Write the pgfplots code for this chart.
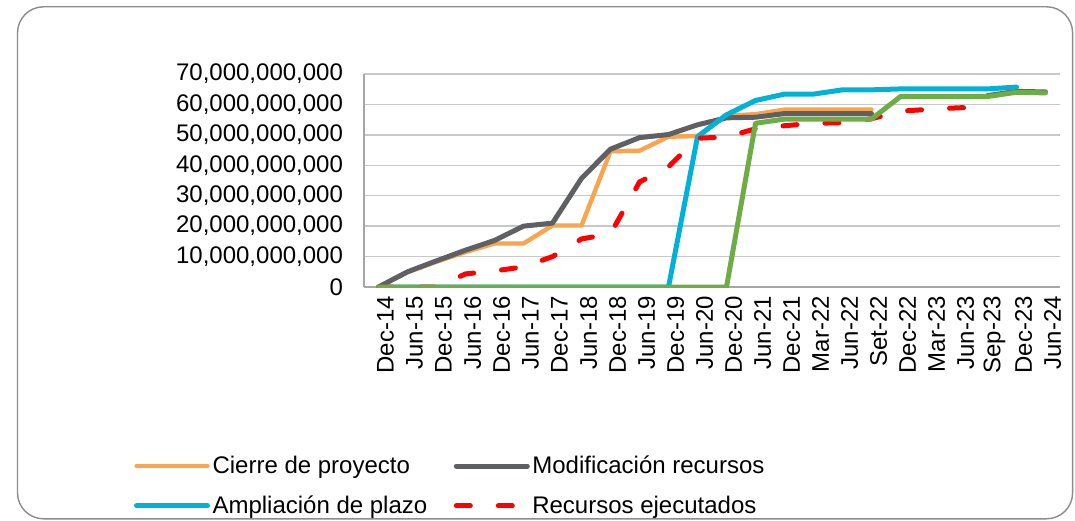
\documentclass[border=0pt]{standalone}
\usepackage{fontspec}
\setmainfont{Liberation Sans}
\usepackage{pgfplots}
\pgfplotsset{compat=1.18}
\definecolor{corange}{HTML}{F9A550}
\definecolor{cgray}{HTML}{5E6064}
\definecolor{ccyan}{HTML}{00B2D8}
\definecolor{cred}{HTML}{FF0000}
\definecolor{cgreen}{HTML}{6EAC46}
\definecolor{cgrid}{HTML}{C8C8C8}
\definecolor{cframe}{HTML}{8C8C8C}
\begin{document}
\begin{tikzpicture}
\path[use as bounding box] (0,0) rectangle (537.5pt,260pt);
\draw[cframe, line width=0.7pt, rounded corners=13pt] (8.75pt,0.6pt) rectangle (536.3pt,256.6pt);
\begin{axis}[
  at={(182pt,116.5pt)}, anchor=south west,
  scale only axis, width=348pt, height=106.5pt,
  xmin=-0.5, xmax=23.5, ymin=0, ymax=70e9,
  xtick={0,...,23},
  xticklabels={Dec-14,Jun-15,Dec-15,Jun-16,Dec-16,Jun-17,Dec-17,Jun-18,Dec-18,Jun-19,Dec-19,Jun-20,Dec-20,Jun-21,Dec-21,Mar-22,Jun-22,Set-22,Dec-22,Mar-23,Jun-23,Sep-23,Dec-23,Jun-24},
  ytick={0,10e9,20e9,30e9,40e9,50e9,60e9,70e9},
  scaled y ticks=false,
  yticklabel style={/pgf/number format/fixed,/pgf/number format/1000 sep={,},/pgf/number format/assume math mode=true, font=\fontsize{12}{14}\selectfont, xshift=-7pt},
  xticklabel style={rotate=90, anchor=east, font=\fontsize{12}{14}\selectfont, yshift=-3.5pt, xshift=-1pt},
  tick style={draw=none},
  axis x line*=bottom, axis y line*=left,
  axis line style={draw=gray!70, line width=0.6pt},
  ymajorgrids, major grid style={cgrid, line width=0.7pt},
  unbounded coords=jump,
  every axis plot/.append style={line join=round, line cap=round},
  legend columns=2,
  legend cell align=left,
  legend image code/.code={\draw[#1] (0pt,0pt) -- (35.5pt,0pt);},
  legend style={draw=none, fill=none, at={(-0.331,-0.779)}, anchor=north west, inner sep=0pt,
    font=\fontsize{12}{14}\selectfont, row sep=7pt,
    nodes={inner sep=1.25pt},
    /tikz/every even column/.append style={column sep=12pt}},
]
\addplot[corange, line width=2.2pt] coordinates {
(0,0) (1,4.9e9) (2,8.3e9) (3,11.5e9) (4,14.3e9) (5,14.3e9) (6,20.2e9) (7,20.2e9) (8,44.6e9) (9,44.8e9) (10,49.4e9) (11,49.6e9) (12,56.3e9) (13,56.8e9) (14,58.3e9) (15,58.3e9) (16,58.3e9) (17,58.3e9)};
\addlegendentry{Cierre de proyecto}
\addplot[cgray, line width=2.5pt] coordinates {
(0,0) (1,5.0e9) (2,8.6e9) (3,12.1e9) (4,15.3e9) (5,20.0e9) (6,21.0e9) (7,35.7e9) (8,45.3e9) (9,49.1e9) (10,50.1e9) (11,53.3e9) (12,55.6e9) (13,55.8e9) (14,57.0e9) (15,57.0e9) (16,57.0e9) (17,57.0e9) (18,nan) (19,nan) (20,nan) (21,62.9e9) (22,64.3e9) (23,64.1e9)};
\addlegendentry{Modificación recursos}
\addplot[ccyan, line width=2.5pt] coordinates {
(0,0) (1,0) (2,0) (3,0) (4,0) (5,0) (6,0) (7,0) (8,0) (9,0) (10,0) (11,49.4e9) (12,56.6e9) (13,61.3e9) (14,63.4e9) (15,63.4e9) (16,64.8e9) (17,64.8e9) (18,65.1e9) (19,65.1e9) (20,65.1e9) (21,65.1e9) (22,65.7e9)};
\addlegendentry{Ampliación de plazo}
\addplot[cred, line width=2.5pt, dash pattern=on 7pt off 14pt] coordinates {
(0,0) (1,0) (2,0) (3,4.3e9) (4,5.3e9) (5,6.6e9) (6,10.0e9) (7,15.8e9) (8,17.5e9) (9,34.5e9) (10,39.5e9) (11,48.9e9) (12,49.3e9) (13,52.0e9) (14,53.0e9) (15,53.8e9) (16,54.0e9) (17,55.3e9) (18,57.8e9) (19,58.4e9) (20,58.9e9) (21,59.1e9)};
\addlegendentry{Recursos ejecutados}
\addplot[cgreen, line width=2.5pt, forget plot] coordinates {
(0,0) (1,0) (2,0) (3,0) (4,0) (5,0) (6,0) (7,0) (8,0) (9,0) (10,0) (11,0) (12,0) (13,53.8e9) (14,55.2e9) (15,55.2e9) (16,55.2e9) (17,55.2e9) (18,62.6e9) (19,62.6e9) (20,62.6e9) (21,62.6e9) (22,64.0e9) (23,63.8e9)};
\end{axis}
\end{tikzpicture}
\end{document}
